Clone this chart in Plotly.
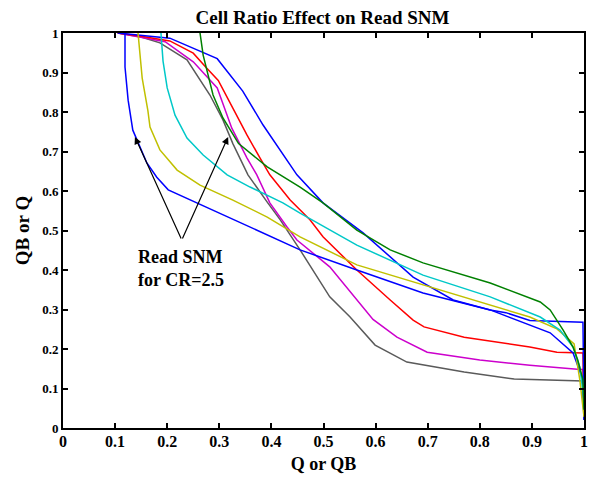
import plotly.graph_objects as go

# ---- data ----
gray_x = [0.105, 0.15, 0.186, 0.238, 0.282, 0.307, 0.326, 0.355, 0.392, 0.417, 0.455, 0.480, 0.512, 0.551, 0.599, 0.660, 0.770, 0.866, 0.998, 1.0]
gray_y = [1.0, 0.99, 0.975, 0.932, 0.843, 0.780, 0.720, 0.641, 0.572, 0.527, 0.451, 0.398, 0.332, 0.281, 0.210, 0.167, 0.142, 0.124, 0.119, 0.02]

mag_x = [0.105, 0.15, 0.196, 0.250, 0.296, 0.324, 0.353, 0.372, 0.397, 0.430, 0.449, 0.512, 0.595, 0.641, 0.699, 0.800, 0.896, 0.987, 0.998, 1.0]
mag_y = [1.0, 0.99, 0.978, 0.927, 0.861, 0.759, 0.684, 0.641, 0.570, 0.509, 0.476, 0.408, 0.275, 0.230, 0.192, 0.172, 0.159, 0.149, 0.148, 0.03]

red_x = [0.105, 0.15, 0.205, 0.250, 0.276, 0.298, 0.326, 0.353, 0.378, 0.397, 0.436, 0.474, 0.499, 0.564, 0.628, 0.672, 0.693, 0.770, 0.896, 0.948, 0.998, 1.0]
red_y = [1.0, 0.992, 0.980, 0.949, 0.911, 0.880, 0.810, 0.742, 0.684, 0.641, 0.577, 0.527, 0.484, 0.400, 0.324, 0.273, 0.256, 0.230, 0.205, 0.192, 0.190, 0.04]

blueb_x = [0.105, 0.15, 0.205, 0.296, 0.345, 0.384, 0.449, 0.499, 0.576, 0.672, 0.749, 0.820, 0.850, 0.896, 0.998, 1.0]
blueb_y = [1.0, 0.995, 0.987, 0.935, 0.853, 0.767, 0.641, 0.570, 0.494, 0.382, 0.324, 0.299, 0.292, 0.272, 0.268, 0.05]

bluea_x = [0.119, 0.119, 0.125, 0.134, 0.161, 0.180, 0.202, 0.257, 0.326, 0.392, 0.455, 0.564, 0.691, 0.820, 0.935, 0.979, 0.998, 1.0]
bluea_y = [1.0, 0.914, 0.830, 0.754, 0.671, 0.635, 0.603, 0.570, 0.527, 0.489, 0.451, 0.400, 0.342, 0.299, 0.241, 0.190, 0.122, 0.02]

yel_x = [0.144, 0.152, 0.163, 0.167, 0.186, 0.219, 0.263, 0.326, 0.392, 0.455, 0.564, 0.691, 0.820, 0.896, 0.948, 0.981, 0.992, 1.0]
yel_y = [1.0, 0.886, 0.803, 0.762, 0.704, 0.653, 0.615, 0.577, 0.534, 0.484, 0.413, 0.362, 0.311, 0.281, 0.251, 0.213, 0.122, 0.028]

cyan_x = [0.188, 0.192, 0.200, 0.215, 0.238, 0.269, 0.315, 0.359, 0.422, 0.455, 0.564, 0.691, 0.820, 0.916, 0.954, 0.979, 0.992, 1.0]
cyan_y = [1.0, 0.929, 0.861, 0.792, 0.734, 0.691, 0.641, 0.610, 0.570, 0.544, 0.463, 0.387, 0.332, 0.281, 0.248, 0.205, 0.154, 0.071]

green_x = [0.263, 0.269, 0.288, 0.307, 0.337, 0.392, 0.455, 0.499, 0.564, 0.628, 0.691, 0.756, 0.820, 0.916, 0.935, 0.960, 0.979, 0.988, 0.998, 1.0]
green_y = [1.0, 0.944, 0.843, 0.785, 0.720, 0.661, 0.610, 0.570, 0.501, 0.451, 0.418, 0.392, 0.367, 0.319, 0.299, 0.248, 0.205, 0.172, 0.122, 0.046]

tick_vals = [0, 0.1, 0.2, 0.3, 0.4, 0.5, 0.6, 0.7, 0.8, 0.9, 1]
tick_text = ["0", "0.1", "0.2", "0.3", "0.4", "0.5", "0.6", "0.7", "0.8", "0.9", "1"]

arrow_tail = (0.228, 0.476)
arrow_heads = [(0.138, 0.737), (0.317, 0.737)]

series = [
    (gray_x, gray_y, "#5a5a5a"),
    (mag_x, mag_y, "#cc00cc"),
    (red_x, red_y, "#ff0000"),
    (blueb_x, blueb_y, "#0000ff"),
    (bluea_x, bluea_y, "#0000ff"),
    (yel_x, yel_y, "#c0c000"),
    (cyan_x, cyan_y, "#00c8c8"),
    (green_x, green_y, "#008000"),
]

fig = go.Figure()
for xs, ys, c in series:
    fig.add_trace(go.Scatter(x=xs, y=ys, mode="lines", line=dict(color=c, width=1.5),
                             showlegend=False, hoverinfo="skip"))

font_fam = "Liberation Serif, Times New Roman, serif"
for hx, hy in arrow_heads:
    fig.add_annotation(x=hx, y=hy, ax=arrow_tail[0], ay=arrow_tail[1], xref="x", yref="y",
                       axref="x", ayref="y", showarrow=True, arrowhead=2, arrowsize=1.2,
                       arrowwidth=1.2, arrowcolor="black", text="")
fig.add_annotation(x=0.14, y=0.403, xref="x", yref="y", xanchor="left", yanchor="middle",
                   showarrow=False, align="left",
                   text="<b>Read SNM<br>for CR=2.5</b>",
                   font=dict(family=font_fam, size=18, color="black"))

axis_common = dict(range=[0, 1], tickvals=tick_vals, ticks="inside",
                   ticklen=5, tickwidth=1.5, tickcolor="black", showline=True, linewidth=2,
                   linecolor="black", mirror="ticks", showgrid=False, zeroline=False,
                   automargin=False)

# the page body adds an 8 px offset, so the figure is sized to fill the rest of the window
fig.update_layout(
    width=589, height=469,
    margin=dict(l=55, r=13, t=25, b=49),
    paper_bgcolor="white", plot_bgcolor="white",
    title=dict(text="<b>Cell Ratio Effect on Read SNM</b>", x=0.534, xanchor="center",
               y=0.981, yanchor="middle", automargin=False,
               font=dict(family=font_fam, size=19, color="black")),
    xaxis=dict(**axis_common, ticktext=["<b>%s</b>" % t for t in tick_text],
               ticklabelstandoff=-2,
               tickfont=dict(family=font_fam, size=16, color="black"),
               title=dict(text="<b>Q or QB</b>", standoff=8,
                          font=dict(family=font_fam, size=18, color="black"))),
    yaxis=dict(**axis_common, ticktext=["<b>%s</b>" % t for t in tick_text],
               tickfont=dict(family=font_fam, size=13, color="black"),
               title=dict(text="<b>QB or Q</b>", standoff=8,
                          font=dict(family=font_fam, size=19, color="black"))),
)
fig.write_html("out.html")
